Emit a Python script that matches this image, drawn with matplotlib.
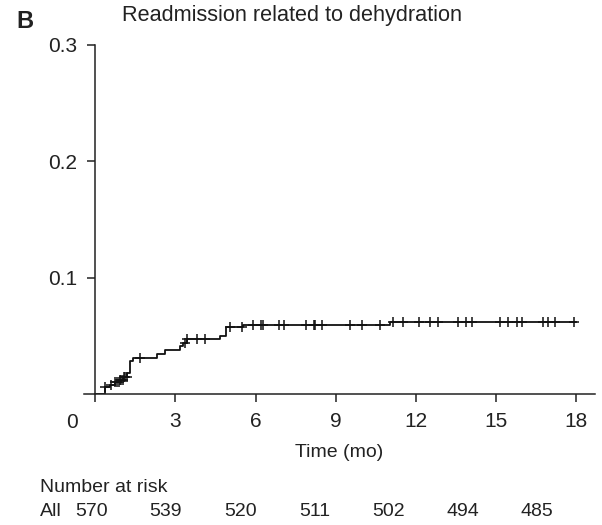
import matplotlib
matplotlib.use("Agg")
import matplotlib.pyplot as plt
import numpy as np

plt.rcParams['font.family'] = ['Liberation Sans', 'DejaVu Sans']

# step curve (time in months, cumulative incidence)
stepTimes = [0.0, 0.31, 0.37, 0.55, 0.75, 0.9, 1.05, 1.19, 1.3, 1.42, 2.31, 2.62, 3.18, 3.3, 3.43, 4.68, 4.9, 5.54, 11.04, 18.0]
stepValues = [0.0, 0.0, 0.006, 0.008, 0.010, 0.012, 0.015, 0.018, 0.028, 0.031, 0.034, 0.038, 0.041, 0.044, 0.047, 0.050, 0.058, 0.0593, 0.0616, 0.0616]

# censored observations
censorTimes = [0.37, 0.6, 0.75, 0.82, 0.88, 0.93, 0.98, 1.03, 1.08, 1.13, 1.18, 1.66, 3.37, 3.43, 3.8, 4.12,
               5.05, 5.51, 5.92, 6.21, 6.27, 6.86, 7.05, 7.89, 8.17, 8.23, 8.48, 9.54, 9.98, 10.66,
               11.14, 11.53, 12.13, 12.53, 12.81, 13.56, 13.88, 14.09, 15.13, 15.43, 15.78, 15.96,
               16.75, 16.96, 17.21, 17.92]

xTicks = [0, 3, 6, 9, 12, 15, 18]
yTicks = [0.1, 0.2, 0.3]
atRisk = [570, 539, 520, 511, 502, 494, 485]

textColor = "#222222"
fs = 15

figure = plt.figure(figsize=(6.02, 5.25), dpi=100)
ax = figure.add_axes([84/602, 1 - 394/525, (595-84)/602, (394-45)/525])

ax.step(stepTimes, stepValues, where="post", color="#111111", linewidth=1.3)

# censor marks sit on the curve value at that time
censorValues = [stepValues[np.searchsorted(stepTimes, t, side="right") - 1] for t in censorTimes]
ax.plot(censorTimes, censorValues, linestyle="none", marker="+", markersize=7,
        markeredgewidth=1.1, color="#111111")

ax.set_xlim(-0.42, 18.7)
ax.set_ylim(0, 0.3)
ax.spines['left'].set_position(('data', 0))
ax.spines['top'].set_visible(False)
ax.spines['right'].set_visible(False)
for s in ['left', 'bottom']:
    ax.spines[s].set_linewidth(1.1)
    ax.spines[s].set_color("#222222")

ax.set_xticks(xTicks)
ax.set_xticklabels([""] + [str(t) for t in xTicks[1:]])
ax.set_yticks(yTicks)
ax.set_yticklabels([str(t) for t in yTicks])
ax.tick_params(axis="both", direction="out", length=6, width=1.1, color="#222222",
               labelsize=fs, labelcolor=textColor, pad=7)

ax.annotate("0", xy=(0, 0), xytext=(-23, -29), textcoords="offset pixels",
            ha="center", va="center", fontsize=fs, color=textColor)

ax.set_xlabel("Time (mo)", fontsize=14, color=textColor, labelpad=9)

figure.text(122/602, 1 - 16/525, "Readmission related to dehydration", fontsize=15.6,
            color=textColor, ha="left", va="center")
figure.text(16/602, 1 - 22/525, "B", fontsize=17, fontweight="bold", color=textColor,
            ha="left", va="center")

figure.text(40/602, 1 - 488/525, "Number at risk", fontsize=14, color=textColor,
            ha="left", va="center")
figure.text(40/602, 1 - 511/525, "All", fontsize=14, color=textColor, ha="left", va="center")
for i, n in enumerate(atRisk):
    figure.text((91.7 + i*74.2)/602, 1 - 511/525, str(n), fontsize=14, color=textColor,
                ha="center", va="center")

figure.savefig("out.png", dpi=100)
